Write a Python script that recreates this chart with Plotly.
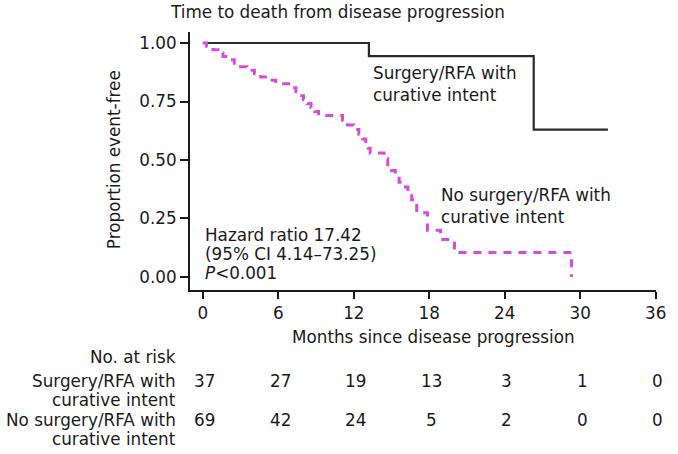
import plotly.graph_objects as go

# ---------------- data ----------------
month_ticks = [0, 6, 12, 18, 24, 30, 36]
y_ticks = [0.0, 0.25, 0.5, 0.75, 1.0]

surg_time = [0, 13.2, 26.3, 32.2]
surg_surv = [1.0, 0.944, 0.630, 0.630]

nosurg_time = [0, 0.3, 0.8, 1.2, 1.6, 2.0, 2.5, 3.0, 3.5, 4.1, 4.6, 5.2, 5.8,
               7.1, 7.4, 7.7, 8.0, 8.3, 8.6, 8.9, 9.2,
               11.1, 11.5, 12.0, 12.4, 12.7, 12.95, 13.15, 13.3,
               14.4, 14.7, 15.0, 15.3, 15.6, 15.95, 16.3, 16.6, 16.8, 17.0,
               17.85, 18.9, 20.0, 29.3]
nosurg_surv = [1.0, 0.986, 0.971, 0.957, 0.942, 0.928, 0.913, 0.899, 0.884, 0.870, 0.855, 0.841, 0.826,
               0.809, 0.792, 0.775, 0.758, 0.741, 0.724, 0.707, 0.690,
               0.670, 0.650, 0.630, 0.610, 0.590, 0.570, 0.550, 0.530,
               0.505, 0.480, 0.455, 0.430, 0.405, 0.385, 0.360, 0.330, 0.305, 0.275,
               0.200, 0.160, 0.105, 0.0]

surg_risk = [37, 27, 19, 13, 3, 1, 0]
nosurg_risk = [69, 42, 24, 5, 2, 0, 0]

title_text = "Time to death from disease progression"
x_title = "Months since disease progression"
y_title = "Proportion event-free"
surg_label = "Surgery/RFA with<br>curative intent"
nosurg_label = "No surgery/RFA with<br>curative intent"

# ---------------- layout constants ----------------
W, H = 678, 454
ML, MR, MT, MB = 190, 15, 32, 164
PW = W - ML - MR
PH = H - MT - MB
X0, XR = -1.02, 36.02
Y0, YT = -0.0556, 1.047
FONT = "DejaVu Sans"
FS = 16.8
TXT = "#1a1a1a"
MAG = "#d64bdc"


def px(x):
    return (x - ML) / PW


def py(y):
    return (H - MB - y) / PH


def mx(m):
    # month value -> paper fraction
    return (m - X0) / (XR - X0)


fig = go.Figure()
fig.add_trace(go.Scatter(x=surg_time, y=surg_surv, mode="lines", line_shape="hv",
                         line=dict(color="#2a2a2a", width=2.2), showlegend=False,
                         hoverinfo="skip"))
fig.add_trace(go.Scatter(x=nosurg_time, y=nosurg_surv, mode="lines", line_shape="hv",
                         line=dict(color=MAG, width=3, dash="8px,7px"), showlegend=False,
                         hoverinfo="skip"))

ann = []


def add(text, x, y, xanchor="center", size=FS, **kw):
    ann.append(dict(text=text, x=x, y=y, xref="paper", yref="paper", xanchor=xanchor,
                    yanchor="middle", showarrow=False,
                    font=dict(family=FONT, size=size, color=TXT), **kw))


add(title_text, px(340), py(12))
add(x_title, mx(18.3), py(337))
add(y_title, px(113), py(160), textangle=-90)

# curve labels
add(surg_label, mx(13.35), py(84), xanchor="left", align="left")
add(nosurg_label, mx(18.8), py(206), xanchor="left", align="left")

# stats
add("Hazard ratio 17.42", mx(0), py(235), xanchor="left")
add("(95% CI 4.14\u201373.25)", mx(0), py(254), xanchor="left")
add("<i>P</i><0.001", mx(0), py(273), xanchor="left")

# risk table
add("No. at risk", px(178), py(357), xanchor="right")
add("Surgery/RFA with", px(178), py(381), xanchor="right")
add("curative intent", px(178), py(400), xanchor="right")
add("No surgery/RFA with", px(178), py(420), xanchor="right")
add("curative intent", px(178), py(439), xanchor="right")
for m, a, b in zip(month_ticks, surg_risk, nosurg_risk):
    add(str(a), mx(m + 0.15), py(381))
    add(str(b), mx(m + 0.15), py(420))

fig.update_layout(
    width=W, height=H,
    margin=dict(l=ML, r=MR, t=MT, b=MB),
    paper_bgcolor="white", plot_bgcolor="white",
    font=dict(family=FONT, size=FS, color=TXT),
    annotations=ann,
    xaxis=dict(range=[X0, XR], tickvals=month_ticks, ticktext=[str(v) for v in month_ticks],
               showline=True, linecolor="#1a1a1a", linewidth=2, mirror=False,
               ticks="outside", ticklen=7, tickwidth=2, tickcolor="#1a1a1a",
               showgrid=False, zeroline=False, tickfont=dict(family=FONT, size=FS, color=TXT)),
    yaxis=dict(range=[Y0, YT], tickvals=y_ticks, ticktext=["%.2f" % v for v in y_ticks],
               showline=True, linecolor="#1a1a1a", linewidth=2, mirror=False,
               ticks="outside", ticklen=8, tickwidth=2, tickcolor="#1a1a1a",
               showgrid=False, zeroline=False, tickfont=dict(family=FONT, size=FS, color=TXT)),
)

fig.write_html("out.html", config={"displayModeBar": False},
               post_script=("document.body.style.margin='0';"
                            "document.body.style.overflow='hidden';"
                            "document.documentElement.style.overflow='hidden';"))
